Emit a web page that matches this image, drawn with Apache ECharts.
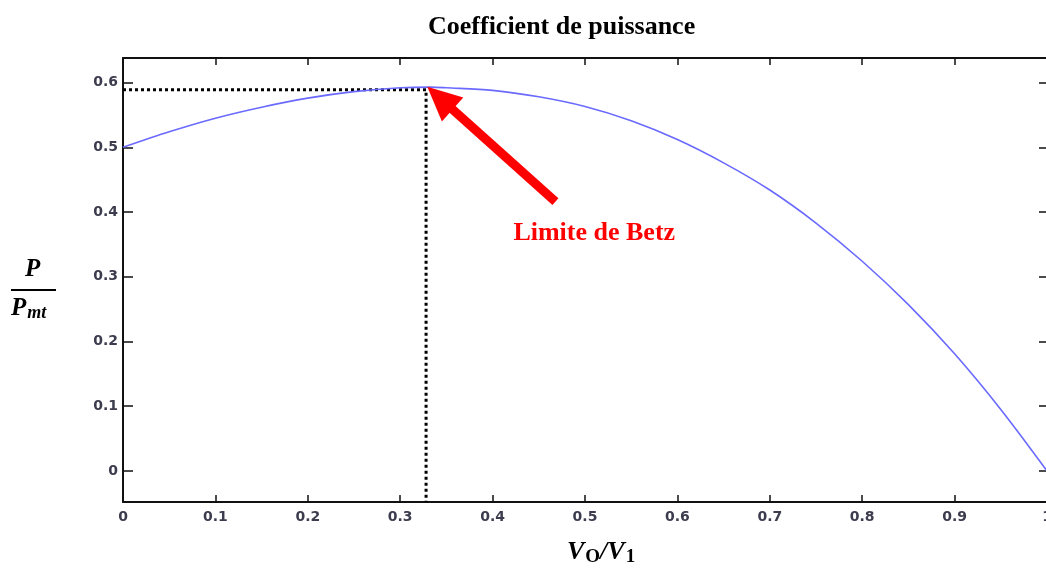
<!DOCTYPE html>
<html>
<head>
<meta charset="utf-8">
<script src="https://cdn.jsdelivr.net/npm/echarts@6/dist/echarts.min.js"></script>
<style>
  html, body { margin: 0; padding: 0; background: #fff; }
  #chart { width: 1046px; height: 573px; }
</style>
</head>
<body>
<div id="chart"></div>
<script>
// V0/V1 ratio and power coefficient
var ratio = [0, 0.05, 0.1, 0.15, 0.2, 0.25, 0.3, 0.333, 0.35, 0.4, 0.45, 0.5, 0.55, 0.6, 0.65, 0.7, 0.75, 0.8, 0.85, 0.9, 0.95, 1];
var power = [0.5, 0.524, 0.545, 0.562, 0.576, 0.586, 0.592, 0.593, 0.592, 0.588, 0.578, 0.563, 0.541, 0.512, 0.476, 0.434, 0.383, 0.324, 0.257, 0.181, 0.095, 0];

// dotted guide to the Betz limit
var betzX = [0, 0.328, 0.328];
var betzY = [0.589, 0.589, -0.048];

// arrow annotation (start, head centre)
var arrowFrom = [0.468, 0.416];
var arrowTo = [0.343, 0.576];
var betzLabel = 'Limite de Betz';
var betzLabelAt = [0.51, 0.367];

var yTicks = [0, 0.1, 0.2, 0.3, 0.4, 0.5, 0.6];

let dom = document.getElementById('chart');
var myChart = echarts.init(dom);

var labelStyle = {
    color: '#3c3c4e',
    fontFamily: 'DejaVu Sans, Arial',
    fontWeight: 'bold',
    fontSize: 14
};

let option = {
    animation: false,
    title: {
        text: 'Coefficient de puissance',
        left: 423,
        top: 9,
        textStyle: {
            fontFamily: 'Liberation Serif, Times New Roman',
            fontWeight: 'bold',
            fontSize: 26,
            color: '#000'
        }
    },
    grid: { left: 123, top: 58, width: 924, height: 444, outerBoundsMode: 'none' },
    xAxis: [
        {
            type: 'value',
            min: 0,
            max: 1,
            interval: 0.1,
            position: 'bottom',
            splitLine: { show: false },
            axisLine: { onZero: false, lineStyle: { color: '#111', width: 2 } },
            axisTick: { inside: true, length: 7, lineStyle: { color: '#111', width: 1.5 } },
            axisLabel: Object.assign({ margin: 8 }, labelStyle)
        },
        {
            type: 'value',
            min: 0,
            max: 1,
            interval: 0.1,
            position: 'top',
            splitLine: { show: false },
            axisLine: { onZero: false, lineStyle: { color: '#111', width: 2 } },
            axisTick: { inside: true, length: 7, lineStyle: { color: '#111', width: 1.5 } },
            axisLabel: { show: false }
        }
    ],
    yAxis: [
        {
            type: 'value',
            min: -0.048,
            max: 0.638,
            position: 'left',
            splitLine: { show: false },
            axisLine: { onZero: false, lineStyle: { color: '#111', width: 2 } },
            axisTick: { inside: true, length: 10, customValues: yTicks, lineStyle: { color: '#111', width: 1.5 } },
            axisLabel: Object.assign({ margin: 5, customValues: yTicks }, labelStyle)
        },
        {
            type: 'value',
            min: -0.048,
            max: 0.638,
            position: 'right',
            splitLine: { show: false },
            axisLine: { onZero: false, lineStyle: { color: '#111', width: 2 } },
            axisTick: { inside: true, length: 8, customValues: yTicks, lineStyle: { color: '#111', width: 1.5 } },
            axisLabel: { show: false }
        }
    ],
    series: [
        {
            name: 'Cp',
            type: 'line',
            smooth: 0.3,
            symbol: 'none',
            lineStyle: { color: '#6a6aff', width: 1.6 },
            data: ratio.map(function (v, i) { return [v, power[i]]; }),
            z: 3
        },
        {
            name: 'Betz',
            type: 'line',
            symbol: 'none',
            lineStyle: { color: '#000', width: 3, type: [3, 3] },
            data: betzX.map(function (v, i) { return [v, betzY[i]]; }),
            z: 2,
            markLine: {
                silent: true,
                symbol: ['none', 'triangle'],
                symbolSize: [32, 34],
                lineStyle: { color: '#ff0000', width: 9, type: 'solid', cap: 'butt' },
                itemStyle: { color: '#ff0000' },
                label: { show: false },
                data: [[
                    { coord: arrowFrom },
                    { coord: arrowTo }
                ]],
                z: 5
            },
            markPoint: {
                silent: true,
                symbol: 'circle',
                symbolSize: 0,
                label: {
                    show: true,
                    formatter: betzLabel,
                    position: 'inside',
                    color: '#ff0000',
                    fontFamily: 'Liberation Serif, Times New Roman',
                    fontWeight: 'bold',
                    fontSize: 26
                },
                data: [{ coord: betzLabelAt }]
            }
        }
    ],
    graphic: [
        {
            type: 'text',
            left: 25,
            top: 257,
            style: {
                text: 'P',
                font: 'italic bold 25px "Liberation Serif"',
                fill: '#000'
            }
        },
        {
            type: 'line',
            shape: { x1: 11, y1: 290, x2: 56, y2: 290 },
            style: { stroke: '#000', lineWidth: 2 }
        },
        {
            type: 'text',
            left: 11,
            top: 296,
            style: {
                text: '{b|P}{s|mt}',
                rich: {
                    b: { font: 'italic bold 25px "Liberation Serif"', fill: '#000' },
                    s: { font: 'italic bold 18px "Liberation Serif"', fill: '#000', padding: [10, 0, 0, 1] }
                }
            }
        },
        {
            type: 'text',
            left: 567,
            top: 539,
            style: {
                text: '{b|V}{s|O}{b|/V}{s|1}',
                rich: {
                    b: { font: 'italic bold 26px "Liberation Serif"', fill: '#000' },
                    s: { font: 'bold 19px "Liberation Serif"', fill: '#000', padding: [10, 0, 0, 1] }
                }
            }
        }
    ]
};
if (option && typeof option === "object") {
    myChart.setOption(option, true);
}
window.addEventListener("resize", function () {
    myChart.resize();
});
</script>
</body>
</html>
